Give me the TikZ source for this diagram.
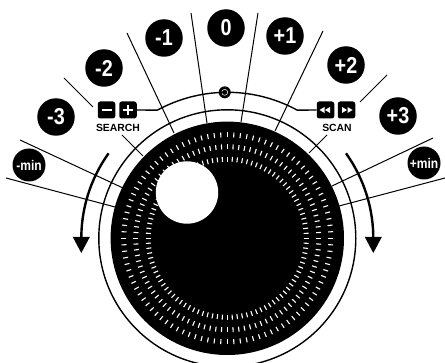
\documentclass[tikz,border=0pt]{standalone}
\usepackage{fontspec}
\setmainfont{Liberation Sans}
\newfontfamily\digifont[FakeStretch=0.86]{Liberation Sans}
\usetikzlibrary{arrows.meta}
\tikzset{
  x=1pt,y=1pt,
  badge/.style={circle,fill=black,text=white,inner sep=0pt,minimum size=37.5pt,font=\digifont\bfseries\fontsize{23}{23}\selectfont},
  minbadge/.style={circle,fill=black,text=white,inner sep=0pt,minimum size=33pt,font=\digifont\bfseries\fontsize{14}{14}\selectfont},
  btn/.style={rectangle,rounded corners=2.5pt,fill=black,inner sep=0pt,minimum width=17.5pt,minimum height=17pt},
  caption text/.style={inner sep=0pt,font=\bfseries\fontsize{10.4}{11}\selectfont},
  thin line/.style={black,line width=1pt},
  wire/.style={black,line width=1.4pt},
  sweep/.style={black,line width=2.4pt},
  dial tick/.style={white,line width=1.1pt},
  glyph/.style={fill=white,draw=none}
}
\begin{document}
\begin{tikzpicture}
\useasboundingbox (0,0) rectangle (445,362);
\clip (0,0) rectangle (445,362);
\coordinate (C) at (227.3,123.7);
% leader lines
\coordinate (a1) at (6,184);    \coordinate (a2) at (115,155);
\coordinate (b1) at (20,222);   \coordinate (b2) at (123,174);
\coordinate (c1) at (64,284);   \coordinate (c2) at (93,255);
\coordinate (d1) at (127,329);  \coordinate (d2) at (174,229);
\coordinate (e1) at (191,349);  \coordinate (e2) at (207,239);
\coordinate (f1) at (258,349);  \coordinate (f2) at (241,240);
\coordinate (g1) at (323,331);  \coordinate (g2) at (275,231);
\coordinate (h1) at (387,287);  \coordinate (h2) at (360,260);
\coordinate (i1) at (433,224);  \coordinate (i2) at (332,176);
\coordinate (j1) at (445,184);  \coordinate (j2) at (339,156);
\coordinate (k1) at (122,227);  \coordinate (k2) at (143,206);
\coordinate (l1) at (327,227);  \coordinate (l2) at (309,209);
\foreach \p in {a,b,c,d,e,f,g,h,i,j,k,l}{\draw[thin line] (\p1) -- (\p2);}
% disc
\fill[black] (C) circle[radius=116.7];
\foreach \r in {79,91.5,103.5}{
  \foreach \i in {1,...,100}{
    \draw[dial tick] ([shift={(\i*3.6:\r-2.5)}]C) -- ([shift={(\i*3.6:\r+2.5)}]C);
  }
}
\fill[white] (187,169.5) circle[radius=31.2];
\draw[black,line width=1.4pt] (C) circle[radius=128.5];
% sweep arrows
\draw[sweep] ([shift={(144.4:146)}]C) arc[start angle=144.4,end angle=181,radius=146];
\draw[sweep] ([shift={(35.6:146)}]C) arc[start angle=35.6,end angle=-1,radius=146];
\fill[black] (72.8,125) -- (89.8,125) -- (81.3,109) -- cycle;
\fill[black] (364.8,125) -- (381.8,125) -- (373.3,109) -- cycle;
% badges
\node[badge] (m3) at (56,245) {-3};
\node[badge] (m2) at (104,294) {-2};
\node[badge] (m1) at (164,324) {-1};
\node[badge] (z0) at (226,334) {0};
\node[badge] (p1) at (285,326) {+1};
\node[badge] (p2) at (346,297) {+2};
\node[badge] (p3) at (398,246) {+3};
\node[minbadge] (mm) at (29,197) {-min};
\node[minbadge] (pm) at (424,199) {+min};
% buttons
\node[btn] (bminus) at (106.5,252) {};
\node[btn] (bplus) at (128,252) {};
\node[btn] (brew) at (325.5,252) {};
\node[btn] (bfwd) at (346.5,252) {};
\fill[glyph] (101.5,251) rectangle (111.5,253);
\fill[glyph] (123,251) rectangle (133,253);
\fill[glyph] (127,247) rectangle (129,257);
\fill[glyph] (325,252) -- (330,255) -- (330,249) -- cycle;
\fill[glyph] (319.5,252) -- (324.5,255) -- (324.5,249) -- cycle;
\fill[glyph] (347,252) -- (342,255) -- (342,249) -- cycle;
\fill[glyph] (352.5,252) -- (347.5,255) -- (347.5,249) -- cycle;
\node[caption text] (search) at (118,234) {SEARCH};
\node[caption text] (scan) at (337,234) {SCAN};
% knob and wires
\node[circle,fill=black,inner sep=0pt,minimum size=12pt] (knob) at ([shift={(91:146)}]C) {};
\draw[white,line width=0.5pt] (knob) circle[radius=3];
\coordinate (elL) at ([shift={(118.6:146)}]C);
\coordinate (elR) at ([shift={(61.4:146)}]C);
\draw[wire] (bplus.east) -- (elL) arc[start angle=118.6,end angle=91,radius=146];
\draw[wire] (brew.west) -- (elR) arc[start angle=61.4,end angle=89,radius=146];
\end{tikzpicture}
\end{document}
